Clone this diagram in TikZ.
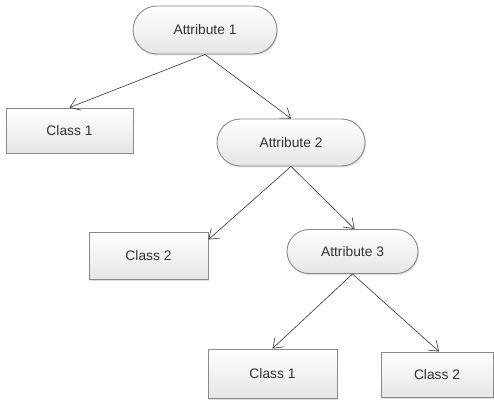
\documentclass[tikz,border=0pt]{standalone}
\usepackage{fontspec}
\setmainfont{Liberation Sans}
\usetikzlibrary{shapes.misc,arrows.meta,shadows}
\definecolor{edgegray}{HTML}{8A8A8A}
\definecolor{txt}{HTML}{333333}
\tikzset{
  base/.style={draw=edgegray, line width=0.9pt, top color=white, bottom color=gray!20,
    text=txt, font=\fontsize{13.8}{16}\selectfont, inner sep=0pt,
    drop shadow={shadow xshift=1pt, shadow yshift=-1.5pt, opacity=0.25}},
  attr/.style={base, rounded rectangle},
  leaf/.style={base, rectangle},
  link/.style={draw=black!80, line width=0.6pt, -{Straight Barb[length=9pt,width=13pt]}}
}
\begin{document}
\begin{tikzpicture}[x=1pt,y=-1pt]
  \useasboundingbox (0,0) rectangle (494,403);
  \node[attr, minimum width=144pt, minimum height=48pt] (a1) at (205,30) {Attribute 1};
  \node[leaf, minimum width=127pt, minimum height=45pt] (c1) at (69.5,130.5) {Class 1};
  \node[attr, minimum width=148pt, minimum height=47pt] (a2) at (291,142.5) {Attribute 2};
  \node[leaf, minimum width=119pt, minimum height=47pt] (c2) at (148.5,255.5) {Class 2};
  \node[attr, minimum width=131pt, minimum height=44pt] (a3) at (352.5,251.5) {Attribute 3};
  \node[leaf, minimum width=129pt, minimum height=49pt] (c3) at (272.5,373.5) {Class 1};
  \node[leaf, minimum width=112pt, minimum height=45pt] (c4) at (437,374.5) {Class 2};

  \draw[link] (a1.south) -- (c1.north);
  \draw[link] (a1.south) -- (a2.north);
  \draw[link] (a2.south) -- ([yshift=-8pt]c2.north east);
  \draw[link] (a2.south) -- ([xshift=2pt]a3.north);
  \draw[link] (a3.south) -- (c3.north);
  \draw[link] (a3.south) -- ([xshift=2pt]c4.north);
\end{tikzpicture}
\end{document}
